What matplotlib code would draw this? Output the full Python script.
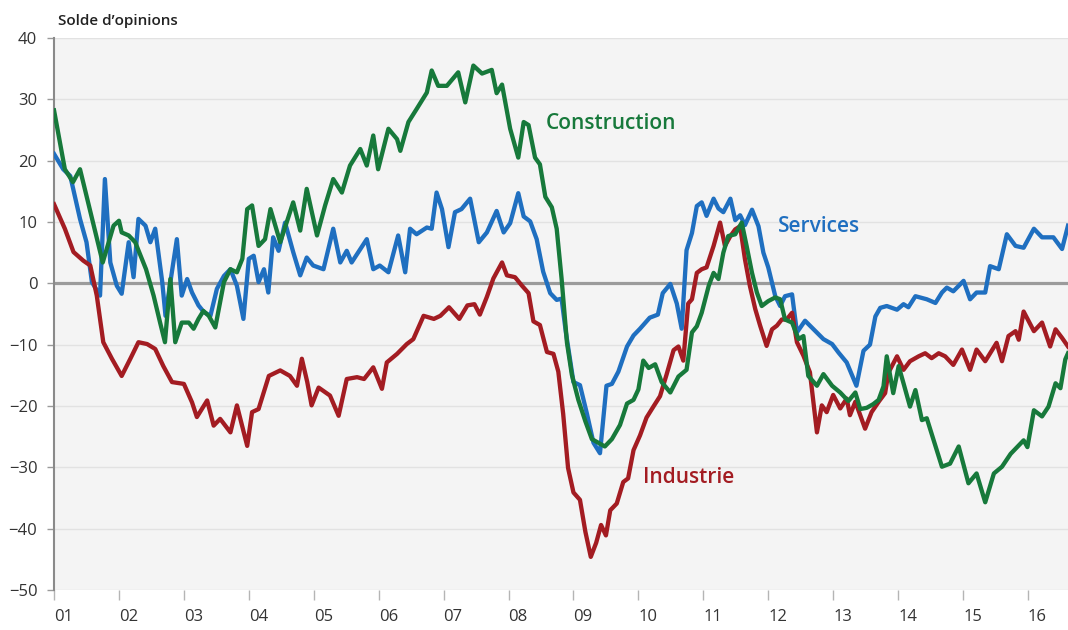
import matplotlib.pyplot as plt
import numpy as np

# month offsets from Jan 2001 and balances of opinion
constr_m = [0, 2, 3.5, 4.8, 9, 11, 12, 12.5, 13.8, 15, 17, 18.4, 19.6, 20.5, 21.5, 22.4, 23.6, 24.9,
            25.8, 26.7, 27.6, 28.6, 29.8, 31.4, 32.6, 33.8, 34.8, 35.7, 36.6, 37.8, 39, 40, 41.8, 44.2,
            45.5, 46.7, 48.6, 50.1, 51.6, 53.2, 54.7, 56.6, 57.8, 59, 59.9, 61.8, 63.4, 64, 65.5, 67,
            68.9, 69.8, 71, 72.6, 74.7, 76, 77.5, 79.1, 80.9, 81.8, 82.8, 84.3, 85.8, 86.8, 87.7, 88.9,
            89.8, 90.8, 92, 92.9, 93.8, 94.8, 95.7, 96.9, 98.2, 99.4, 100.6, 101.8, 103.1, 104.6, 105.9,
            107.1, 108, 108.9, 109.9, 111.1, 112.3, 113.9, 115.4, 116.9, 117.9, 118.8, 119.7, 121, 121.9,
            122.8, 123.7, 124.6, 125.9, 127.1, 128, 129, 129.9, 130.8, 132, 133.3, 134.2, 135.1, 136.4,
            137.6, 138.5, 139.4, 141, 142.2, 143.8, 145.3, 146.8, 148.1, 149, 150.2, 151.4, 152.4, 153.3,
            153.9, 155.1, 156.1, 157, 158.2, 159.2, 160.4, 161.3, 164.1, 165.6, 167.2, 169, 170.5, 172.1,
            173.7, 175.2, 176.8, 178, 179.2, 179.9, 181.1, 182.6, 183.8, 185.1, 186, 186.9, 187.4]
constr_v = [28.2, 18.6, 16.5, 18.6, 3.4, 9.4, 10.2, 8.3, 7.8, 6.7, 2.3, -2, -6.4, -9.6, 0.7, -9.6, -6.4, -6.4,
            -7.4, -5.8, -4.5, -5.3, -7.2, 0.2, 2.3, 1.8, 4, 12.1, 12.7, 6.1, 7.2, 12.1, 6.7, 13.2,
            8.6, 15.4, 7.8, 12.7, 17, 14.8, 19.2, 21.9, 19.2, 24.1, 18.6, 25.2, 23.5, 21.6, 26.3, 28.4,
            31.1, 34.7, 32.2, 32.2, 34.4, 29.5, 35.5, 34.2, 34.8, 31, 32.4, 25.2, 20.5, 26.3, 25.8, 20.5,
            19.4, 14.1, 12.4, 8.9, 0.8, -9.7, -14.9, -19, -22.5, -25.4, -26, -26.6, -25.4, -23.1, -19.6,
            -19, -17.3, -12.6, -13.8, -13.2, -16.1, -17.8, -15.2, -14.1, -8, -7, -4.8, -0.4, 1.7,
            0.7, 5, 7.7, 8, 9.9, 6.1, 1.7, -1.5, -3.7, -2.9, -2.3, -2.6, -5.9, -6.4,
            -9.1, -8.6, -15.1, -16.7, -14.8, -16.7, -17.8, -19.2, -17.8, -20.5, -20.3, -19.7, -19, -16.8,
            -11.9, -17.9, -13.5, -16.3, -20.1, -17.4, -22.3, -22, -29.9, -29.4, -26.6, -32.6, -31, -35.7,
            -31, -29.9, -27.8, -26.7, -25.6, -26.7, -20.7, -21.7, -20.1, -16.3, -17.1, -12.4, -11.4]

serv_m = [0, 1.7, 3, 4.8, 6, 7, 8.5, 9.4, 10.4, 11.6, 12.5, 13.8, 14.7, 15.6, 16.9, 17.8, 18.7, 20, 20.6,
          21.5, 22.7, 23.6, 24.6, 25.5, 26.7, 27.7, 28.9, 30.1, 31.4, 32.6, 33.8, 35, 36, 36.9, 37.8, 38.8,
          39.6, 40.5, 41.5, 42.7, 44.2, 45.5, 46.7, 47.9, 49.8, 51.6, 52.9, 54.1, 55, 57.8, 59, 60.2, 61.8,
          63.6, 64.9, 65.8, 67, 68.9, 69.8, 70.7, 71.7, 72.9, 74.1, 75.3, 76.9, 78.5, 80, 81.8, 83.1, 84.3,
          85.8, 86.8, 88, 89.2, 90.4, 91.7, 92.9, 93.8, 94.6, 96, 97.2, 98.5, 99.7, 100.9, 102.1, 103.1,
          104.3, 105.9, 107.1, 108.3, 110.1, 111.6, 112.5, 113.9, 115.1, 116, 116.9, 117.9, 118.8, 119.7,
          120.6, 121.9, 122.8, 123.7, 125, 125.9, 126.8, 127.7, 129, 130.2, 131.1, 132, 133.3, 134.2,
          135.1, 136.4, 137.3, 138.8, 140.4, 142.2, 143.8, 145, 146.5, 148.3, 149.6, 150.8, 151.8, 152.7,
          153.9, 155.8, 157, 157.9, 159.2, 161.3, 162.9, 164.1, 165, 166.2, 168.1, 169.3, 170.5, 172.1,
          173, 174.6, 176.1, 177.7, 179.2, 181.1, 182.6, 184.7, 186.3, 187.4]
serv_v = [21.1, 18.6, 17.5, 10.5, 6.7, 0.2, -2, 17, 3.4, -0.4, -1.7, 6.7, 1, 10.5, 9.4, 6.7, 8.9, 0.2, -5.3,
          0.2, 7.2, -2, 0.7, -1.5, -3.6, -4.7, -5.3, -0.9, 1.2, 2.3, -0.4, -5.8, 4, 4.5, 0.2, 2.3,
          -1.5, 7.5, 5.3, 9.9, 5.1, 1.3, 4.2, 2.9, 2.3, 8.9, 3.4, 5.3, 3.4, 7.2, 2.3, 2.9, 1.8,
          7.8, 1.8, 8.9, 8, 9.1, 8.9, 14.8, 12.1, 5.9, 11.6, 12.1, 13.8, 6.7, 8.3, 11.8, 8.3, 9.8,
          14.7, 10.9, 10.1, 7.2, 1.9, -1.6, -2.7, -2.5, -8, -16.1, -16.6, -21.3, -26, -27.7, -16.7, -16.4,
          -14.4, -10.3, -8.5, -7.4, -5.6, -5.1, -1.6, -0.1, -3.3, -7.4, 5.4, 8.2, 12.6, 13.2,
          11, 13.8, 12.2, 11.6, 13.8, 10.3, 11.1, 9.5, 12, 9.3, 5, 2.6, -2.1, -3.7,
          -2.1, -1.8, -8, -6.1, -7.5, -9.1, -9.9, -11.3, -12.9, -16.7, -11, -10, -5.4, -4,
          -3.7, -4.3, -3.4, -3.9, -2.1, -2.6, -3.2, -1.5, -0.7, -1.3, 0.4, -2.6, -1.5, -1.5,
          2.8, 2.3, 8, 6.1, 5.8, 8.9, 7.5, 7.5, 5.6, 9.4]

indus_m = [0, 2, 3.6, 5.4, 6.7, 7.9, 9.1, 10.7, 12.5, 14.1, 15.6, 17.2, 18.7, 20.2, 21.8, 24, 25.5, 26.4,
           28.3, 29.5, 30.7, 32.6, 33.8, 35.7, 36.6, 37.8, 39.7, 41.8, 43.6, 44.9, 45.8, 46.8, 47.6, 48.9,
           51, 52.6, 54.1, 56, 57.3, 59, 60.6, 61.5, 63.4, 65.2, 66.4, 68.3, 70.2, 71.4, 73, 74.9, 76.4,
           77.7, 78.7, 80, 81.2, 82.8, 83.7, 85.2, 86.5, 87.7, 88.6, 89.8, 91.1, 92.3, 93.2, 94.1, 95,
           96, 97.2, 98.2, 99.2, 100.2, 101.1, 102, 102.8, 104, 105.2, 106.1, 107.1, 108.3, 109.5, 110.7,
           112, 113.2, 114.5, 115.4, 116.3, 117.2, 117.9, 118.8, 119.7, 120.6, 121.9, 123.1, 124, 125,
           125.9, 126.8, 127.7, 128.6, 129.6, 130.5, 131.7, 132.7, 133.6, 134.5, 135.4, 136.4, 137.3,
           138.5, 139.7, 141, 141.9, 142.8, 144, 145.3, 146.5, 147.1, 148.1, 149, 149.9, 151.1, 152.5,
           153.6, 154.2, 155.8, 157, 158.2, 159.8, 161, 162.2, 163.5, 164.7, 166.2, 167.8, 169.3, 170.5,
           172.1, 174.2, 175.2, 176.4, 177.7, 178.3, 179.2, 181.1, 182.6, 184.1, 185.1, 186.3, 187.4]
indus_v = [12.9, 8.9, 5.1, 3.7, 2.9, -2, -9.6, -12.3, -15.1, -12.3, -9.6, -9.9, -10.7, -13.5, -16.1, -16.4, -19.4, -21.8,
           -19.1, -23.2, -22.1, -24.3, -19.9, -26.5, -21, -20.5, -15.1, -14.2, -15.1, -16.7, -12.3, -16.1, -19.9, -17,
           -18.3, -21.6, -15.6, -15.3, -15.6, -13.7, -17.2, -12.9, -11.5, -9.9, -9.1, -5.3, -5.8, -5.3, -3.9, -5.8, -3.6,
           -3.4, -5.1, -2.2, 0.8, 3.4, 1.3, 1, -0.4, -1.6, -6.2, -6.8, -11.2, -11.5, -14.4, -21.3, -30.1,
           -34.1, -35.3, -40.5, -44.6, -42.3, -39.4, -41.1, -37, -35.9, -32.4, -31.8, -27.2, -24.8, -21.9, -20.2,
           -18.4, -14.9, -10.9, -10.3, -12.6, -3.3, -2.6, 1.7, 2.3, 2.6, 6.1, 9.9, 6.1, 7.7,
           8.8, 9.3, 3.9, -0.4, -4.2, -6.9, -10.2, -7.5, -6.9, -5.9, -5.9, -4.8, -9.6,
           -11.8, -14.5, -24.3, -19.9, -21, -18.2, -20.4, -18.8, -21.5, -19.3, -21.5, -23.7, -21, -19.2,
           -17.9, -14.6, -11.9, -14.1, -12.7, -11.9, -11.4, -12.2, -11.4, -11.9, -13.3, -10.8, -14.1, -10.8,
           -12.7, -9.7, -12.7, -8.6, -7.8, -9.2, -4.6, -7.8, -6.4, -10.3, -7.5, -8.9, -10.3]

years = list(range(2001, 2017))
year_labels = [f"{y % 100:02d}" for y in years]

green = '#17793b'
blue = '#1f6fc0'
red = '#a31c22'
font = 'Open Sans'

fig = plt.figure(figsize=(10.68, 6.30), dpi=100)
ax = fig.add_axes([0.0506, 0.0635, 0.9494, 0.8762])
ax.set_facecolor('#f4f4f4')

# monthly offsets -> decimal years
to_year = lambda m: 2001 + np.array(m) / 12

ax.axhline(0, color='#9b9b9b', lw=2.3, zorder=2)
ax.plot(to_year(serv_m), serv_v, color=blue, lw=3.1, zorder=3, solid_joinstyle='round')
ax.plot(to_year(indus_m), indus_v, color=red, lw=3.1, zorder=4, solid_joinstyle='round')
ax.plot(to_year(constr_m), constr_v, color=green, lw=3.1, zorder=5, solid_joinstyle='round')

ax.set_xlim(2001, 2001 + 187.4 / 12)
ax.set_ylim(-50, 40)
ax.set_yticks(range(-50, 41, 10))
ax.yaxis.grid(True, color='#e2e2e2', lw=1)
ax.set_axisbelow(True)

ax.set_xticks(years)
ax.set_xticklabels(year_labels, ha='left')
ax.tick_params(axis='x', length=7, color='#b5b5b5', width=1, pad=7, labelsize=12, labelcolor='#333333')
ax.tick_params(axis='y', length=5, color='#9a9a9a', width=1, pad=7, labelsize=12, labelcolor='#333333')
for lab in ax.get_xticklabels() + ax.get_yticklabels():
    lab.set_family(font)

for side in ['top', 'right', 'bottom']:
    ax.spines[side].set_visible(False)
ax.spines['left'].set_color('#8a8a8a')
ax.spines['left'].set_linewidth(1.5)

ax.text(2001 + 90.9 / 12, 26.1, 'Construction', color=green, fontsize=15,
        fontweight='semibold', family=font, va='center', ha='left')
ax.text(2001 + 133.8 / 12, 9.3, 'Services', color=blue, fontsize=15,
        fontweight='semibold', family=font, va='center', ha='left')
ax.text(2001 + 108.9 / 12, -31.6, 'Industrie', color=red, fontsize=15,
        fontweight='semibold', family=font, va='center', ha='left')

fig.text(58 / 1068, 1 - 21 / 630, "Solde d\u2019opinions", fontsize=11, fontweight='semibold',
         family=font, color='#222222', va='center', ha='left')

fig.savefig('out.png', dpi=100)
